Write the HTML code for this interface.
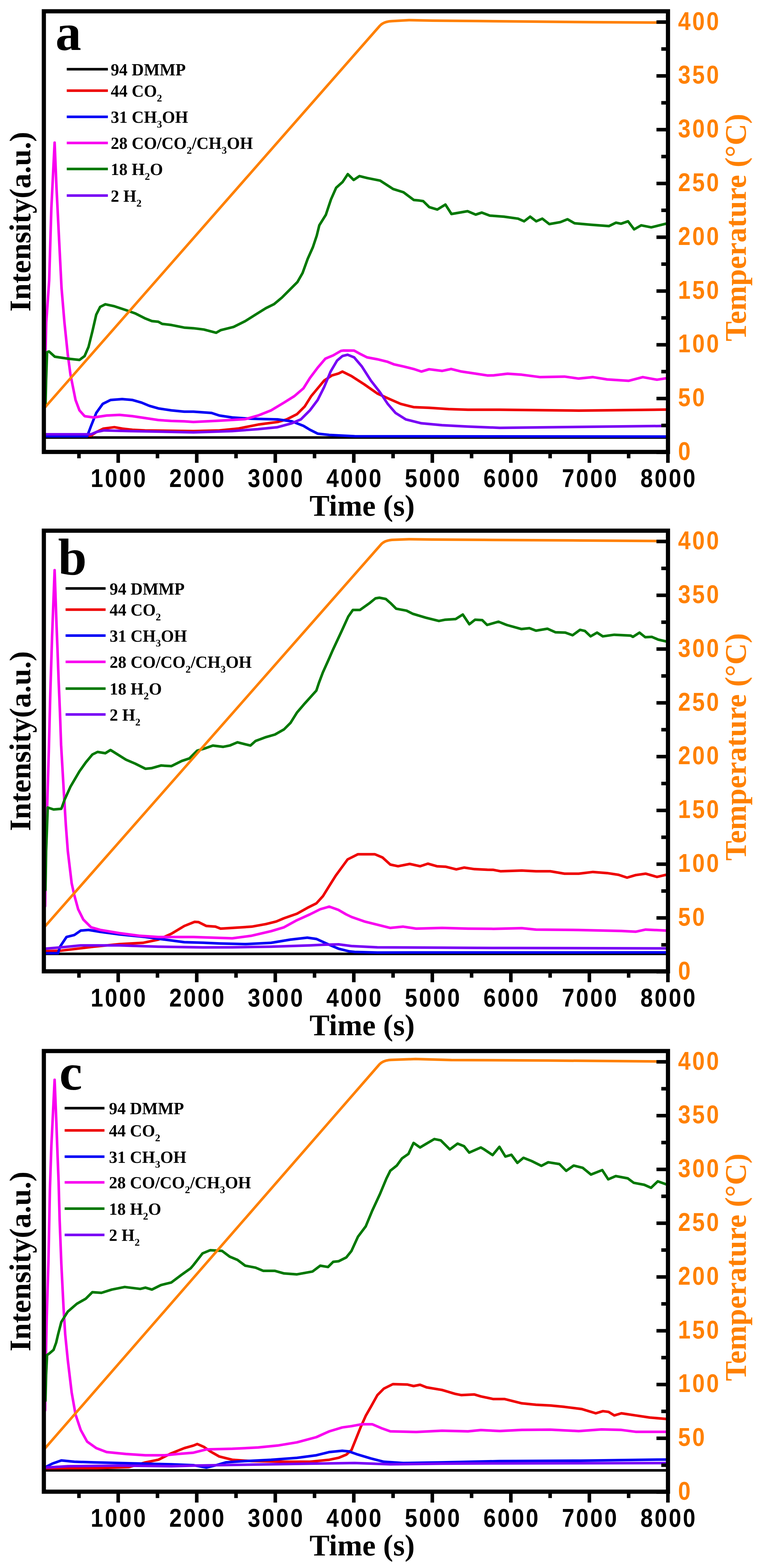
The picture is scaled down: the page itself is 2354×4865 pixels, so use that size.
<!DOCTYPE html>
<html><head><meta charset="utf-8"><style>
html,body{margin:0;padding:0;background:#fff;}
svg{display:block;}
.tl{font-family:"Liberation Sans",Arial,sans-serif;font-weight:bold;font-size:79px;fill:#000;letter-spacing:6px;}
.or{fill:#ff8000;}
.ax{font-family:"Liberation Serif","Times New Roman",serif;font-weight:bold;font-size:93px;fill:#000;}
.ort{fill:#ff8000;}
.pl{font-family:"Liberation Serif","Times New Roman",serif;font-weight:bold;font-size:160px;fill:#000;}
.lg{font-family:"Liberation Serif","Times New Roman",serif;font-weight:bold;font-size:52px;fill:#000;}
.sb{font-size:32px;}
</style></head><body>
<svg width="2354" height="4865" viewBox="0 0 2354 4865">
<defs><clipPath id="clip"><rect x="142" y="41" width="1924" height="1355"/></clipPath></defs>
<rect width="2354" height="4865" fill="#fff"/>

<g transform="translate(0,0.0)">
<g clip-path="url(#clip)">
<path d="M141.0,1357.5 L2066.0,1357.5" fill="none" stroke="#000000" stroke-width="8" stroke-linejoin="round" stroke-linecap="round"/>
<path d="M141.0,1351.4 L282.5,1351.4 L300.0,1340.0 L320.0,1330.0 L354.7,1325.4 L380.0,1330.0 L410.9,1333.4 L450.0,1335.4 L600.0,1337.4 L680.3,1335.4 L740.4,1329.4 L800.6,1317.3 L860.8,1309.3 L888.9,1301.3 L921.0,1285.2 L945.1,1261.2 L965.2,1229.0 L985.2,1205.0 L1005.3,1180.9 L1029.4,1164.9 L1050.0,1158.8 L1062.0,1152.8 L1090.1,1166.9 L1130.3,1192.9 L1170.4,1221.0 L1210.5,1239.1 L1242.6,1253.1 L1282.7,1263.2 L1330.9,1265.2 L1391.1,1269.2 L1451.3,1271.2 L1550.0,1271.2 L1794.8,1274.0 L2066.0,1270.8" fill="none" stroke="#ee0000" stroke-width="8" stroke-linejoin="round" stroke-linecap="round"/>
<path d="M141.0,1353.5 L270.4,1353.5 L282.5,1321.3 L298.5,1281.2 L318.6,1253.1 L342.7,1241.1 L378.8,1238.3 L410.9,1241.1 L439.0,1249.1 L463.0,1259.1 L491.2,1267.2 L531.3,1273.2 L571.4,1277.2 L600.0,1277.2 L656.2,1281.2 L680.3,1289.2 L720.4,1295.3 L780.6,1299.3 L860.8,1301.3 L905.0,1307.3 L941.1,1321.3 L961.2,1333.4 L985.2,1345.4 L1021.3,1349.4 L1100.0,1353.5 L2066.0,1354.5" fill="none" stroke="#0000f5" stroke-width="8" stroke-linejoin="round" stroke-linecap="round"/>
<path d="M140.0,1150.0 L142.0,1060.0 L143.5,1000.0 L152.5,870.3 L159.3,645.0 L169.4,442.5 L175.0,577.6 L184.0,757.8 L190.8,892.9 L199.8,1000.0 L210.3,1100.6 L218.3,1160.8 L226.3,1201.0 L234.3,1241.0 L246.4,1273.2 L262.4,1291.2 L290.5,1295.3 L330.6,1289.2 L370.8,1287.2 L410.9,1291.3 L451.0,1297.3 L491.2,1303.3 L531.3,1306.0 L571.4,1307.3 L600.0,1309.3 L680.3,1305.3 L760.5,1300.5 L800.6,1289.2 L840.8,1273.2 L880.9,1249.1 L913.0,1229.0 L941.0,1205.0 L961.2,1172.9 L985.2,1140.8 L1009.3,1112.7 L1033.4,1102.6 L1057.5,1088.6 L1066.0,1087.5 L1098.2,1087.8 L1114.2,1096.6 L1138.3,1108.7 L1170.4,1114.7 L1202.5,1122.7 L1222.5,1130.7 L1250.6,1136.8 L1282.7,1144.8 L1306.8,1152.8 L1330.9,1145.6 L1371.0,1150.8 L1399.1,1144.8 L1431.2,1152.8 L1471.3,1158.8 L1511.5,1164.9 L1530.0,1164.8 L1574.1,1159.5 L1618.3,1162.6 L1675.7,1170.1 L1750.7,1168.4 L1794.8,1174.6 L1839.0,1170.1 L1883.1,1177.2 L1949.3,1181.6 L1993.5,1170.1 L2037.6,1178.1 L2066.0,1173.7" fill="none" stroke="#f800f0" stroke-width="8" stroke-linejoin="round" stroke-linecap="round"/>
<path d="M141.0,1262.0 L143.0,1180.0 L146.0,1092.6 L152.0,1090.6 L170.0,1106.7 L210.0,1112.7 L246.4,1116.7 L262.4,1104.7 L274.5,1076.6 L286.5,1028.4 L298.5,976.2 L310.6,952.2 L326.6,944.1 L354.7,950.2 L390.8,962.2 L418.9,972.2 L451.0,988.3 L471.0,996.3 L491.0,998.3 L503.0,1005.0 L531.3,1008.3 L571.4,1016.4 L600.0,1018.4 L632.1,1022.4 L670.2,1032.4 L684.3,1024.4 L724.4,1014.4 L760.5,996.3 L792.6,976.2 L824.7,956.2 L850.0,943.6 L874.1,923.5 L898.2,899.4 L922.2,875.4 L938.3,847.3 L954.3,803.1 L970.4,767.0 L982.4,730.9 L990.4,698.8 L1010.5,666.7 L1026.6,618.5 L1042.6,582.4 L1062.7,564.4 L1078.7,540.3 L1096.8,558.3 L1114.8,546.3 L1138.9,552.3 L1179.0,560.4 L1219.2,586.4 L1251.3,596.5 L1283.4,620.5 L1300.0,622.1 L1312.5,624.0 L1331.3,642.7 L1356.3,650.2 L1381.4,634.6 L1400.2,664.0 L1450.2,655.3 L1475.3,665.9 L1494.0,659.6 L1519.1,669.0 L1562.9,672.2 L1606.7,678.4 L1625.5,686.6 L1644.3,672.2 L1663.1,686.6 L1681.9,678.4 L1703.8,695.3 L1738.2,689.1 L1760.1,680.3 L1782.0,692.8 L1832.1,697.2 L1888.5,701.6 L1910.4,690.9 L1926.0,694.1 L1947.9,686.6 L1966.7,711.6 L1988.6,699.1 L2019.9,705.3 L2066.0,694.0" fill="none" stroke="#007800" stroke-width="8" stroke-linejoin="round" stroke-linecap="round"/>
<path d="M141.0,1347.4 L282.5,1347.4 L300.0,1340.0 L322.6,1335.4 L400.0,1337.4 L600.0,1341.4 L720.4,1337.4 L800.6,1331.4 L860.8,1325.4 L905.0,1313.3 L933.0,1301.3 L961.2,1273.2 L985.2,1241.1 L1005.3,1201.0 L1025.4,1152.8 L1045.4,1118.7 L1062.0,1104.7 L1078.1,1100.6 L1098.2,1108.7 L1122.2,1136.8 L1150.3,1180.9 L1178.4,1217.0 L1202.5,1253.1 L1226.6,1281.2 L1258.7,1301.3 L1306.8,1313.3 L1371.0,1319.3 L1451.3,1323.4 L1550.0,1327.4 L2066.0,1321.5" fill="none" stroke="#7800f5" stroke-width="8" stroke-linejoin="round" stroke-linecap="round"/>
<path d="M139.0,1264.4 L1178.0,80.0 L1181.3,76.8 L1185.1,74.0 L1189.2,71.6 L1193.7,69.6 L1198.7,68.0 L1204.1,66.8 L1209.8,65.9 L1216.0,65.5 L1268.5,62.5 L1340.8,64.1 L1482.5,65.3 L1835.6,68.8 L2066.0,70.3" fill="none" stroke="#ff8000" stroke-width="8" stroke-linejoin="round" stroke-linecap="round"/>
</g>
<rect x="136" y="35" width="1935.7" height="1367.2" fill="none" stroke="#000" stroke-width="13"/>
<path d="M366.6,1402 V1436 M610.2,1402 V1436 M853.8,1402 V1436 M1097.3,1402 V1436 M1340.8,1402 V1436 M1584.4,1402 V1436 M1827.9,1402 V1436 M2071.5,1402 V1436 M244.9,1402 V1422 M488.4,1402 V1422 M732.0,1402 V1422 M975.5,1402 V1422 M1219.1,1402 V1422 M1462.6,1402 V1422 M1706.2,1402 V1422 M1949.7,1402 V1422 M2072,1403.4 H2036 M2072,1236.6 H2036 M2072,1069.7 H2036 M2072,902.9 H2036 M2072,736.0 H2036 M2072,569.2 H2036 M2072,402.3 H2036 M2072,235.5 H2036 M2072,68.6 H2036 M2072,1320.0 H2051 M2072,1153.1 H2051 M2072,986.3 H2051 M2072,819.4 H2051 M2072,652.6 H2051 M2072,485.7 H2051 M2072,318.9 H2051 M2072,152.0 H2051" stroke="#000" stroke-width="11" fill="none"/>
<text transform="translate(366.6,1511) scale(0.88,1)" x="3" class="tl" text-anchor="middle">1000</text>
<text transform="translate(610.2,1511) scale(0.88,1)" x="3" class="tl" text-anchor="middle">2000</text>
<text transform="translate(853.8,1511) scale(0.88,1)" x="3" class="tl" text-anchor="middle">3000</text>
<text transform="translate(1097.3,1511) scale(0.88,1)" x="3" class="tl" text-anchor="middle">4000</text>
<text transform="translate(1340.8,1511) scale(0.88,1)" x="3" class="tl" text-anchor="middle">5000</text>
<text transform="translate(1584.4,1511) scale(0.88,1)" x="3" class="tl" text-anchor="middle">6000</text>
<text transform="translate(1827.9,1511) scale(0.88,1)" x="3" class="tl" text-anchor="middle">7000</text>
<text transform="translate(2071.5,1511) scale(0.88,1)" x="3" class="tl" text-anchor="middle">8000</text>
<text transform="translate(2103,1427.1) scale(0.88,1)" class="tl or">0</text>
<text transform="translate(2103,1260.3) scale(0.88,1)" class="tl or">50</text>
<text transform="translate(2103,1093.4) scale(0.88,1)" class="tl or">100</text>
<text transform="translate(2103,926.6) scale(0.88,1)" class="tl or">150</text>
<text transform="translate(2103,759.8) scale(0.88,1)" class="tl or">200</text>
<text transform="translate(2103,593.0) scale(0.88,1)" class="tl or">250</text>
<text transform="translate(2103,426.1) scale(0.88,1)" class="tl or">300</text>
<text transform="translate(2103,259.3) scale(0.88,1)" class="tl or">350</text>
<text transform="translate(2103,92.5) scale(0.88,1)" class="tl or">400</text>
<text x="960" y="1600" class="ax">Time (s)</text>
<text transform="translate(94,688) rotate(-90)" text-anchor="middle" class="ax">Intensity(a.u.)</text>
<text transform="translate(2313,706) rotate(-90)" text-anchor="middle" class="ax ort">Temperature (°C)</text>
<text x="172" y="155" class="pl">a</text>
<path d="M207,214.8 H334.6" stroke="#000000" stroke-width="8"/>
<text x="343.6" y="233.6" class="lg">94 DMMP</text>
<path d="M207,281.3 H334.6" stroke="#ee0000" stroke-width="8"/>
<text x="343.6" y="300.1" class="lg">44 CO<tspan class="sb" dy="15">2</tspan></text>
<path d="M207,362.5 H334.6" stroke="#0000f5" stroke-width="8"/>
<text x="343.6" y="381.3" class="lg">31 CH<tspan class="sb" dy="15">3</tspan><tspan dy="-15">OH</tspan></text>
<path d="M207,443.4 H334.6" stroke="#f800f0" stroke-width="8"/>
<text x="343.6" y="462.2" class="lg">28 CO/CO<tspan class="sb" dy="15">2</tspan><tspan dy="-15">/CH</tspan><tspan class="sb" dy="15">3</tspan><tspan dy="-15">OH</tspan></text>
<path d="M207,524.3 H334.6" stroke="#007800" stroke-width="8"/>
<text x="343.6" y="543.1" class="lg">18 H<tspan class="sb" dy="15">2</tspan><tspan dy="-15">O</tspan></text>
<path d="M207,606.8 H334.6" stroke="#7800f5" stroke-width="8"/>
<text x="343.6" y="625.6" class="lg">2 H<tspan class="sb" dy="15">2</tspan></text>
</g>
<g transform="translate(0,1611.5)">
<g clip-path="url(#clip)">
<path d="M141.0,1347.9 L2066.0,1347.9" fill="none" stroke="#000000" stroke-width="8" stroke-linejoin="round" stroke-linecap="round"/>
<path d="M141.0,1339.9 L190.2,1337.9 L290.5,1325.8 L370.8,1317.8 L443.0,1313.8 L491.2,1303.8 L531.3,1285.7 L571.4,1261.6 L603.5,1248.8 L616.0,1249.6 L640.1,1261.6 L668.2,1263.6 L684.3,1269.7 L720.4,1267.6 L780.6,1263.6 L824.7,1255.6 L856.8,1247.6 L880.9,1237.5 L921.0,1223.5 L953.1,1205.4 L981.2,1191.4 L1001.3,1169.3 L1021.3,1137.2 L1041.4,1105.1 L1062.0,1077.0 L1078.1,1055.0 L1110.2,1038.9 L1162.4,1038.9 L1186.4,1049.0 L1210.5,1071.0 L1234.6,1076.2 L1270.7,1069.0 L1302.8,1076.2 L1326.9,1068.2 L1355.0,1076.2 L1383.1,1077.8 L1415.2,1085.9 L1439.2,1080.3 L1471.3,1085.1 L1511.5,1087.1 L1530.0,1087.3 L1552.1,1091.7 L1618.3,1089.5 L1662.4,1091.7 L1706.6,1091.7 L1750.7,1099.2 L1794.8,1099.2 L1839.0,1093.9 L1883.1,1097.4 L1918.4,1102.7 L1944.9,1111.5 L1971.4,1103.6 L2002.3,1099.2 L2037.6,1109.3 L2066.0,1102.7" fill="none" stroke="#ee0000" stroke-width="8" stroke-linejoin="round" stroke-linecap="round"/>
<path d="M141.0,1345.9 L180.0,1345.9 L186.2,1325.8 L206.2,1295.7 L230.3,1289.7 L250.4,1275.7 L274.5,1273.7 L310.6,1279.7 L370.8,1287.7 L451.0,1295.7 L511.2,1303.8 L571.4,1311.8 L630.0,1313.5 L680.3,1315.8 L760.5,1317.8 L840.8,1313.8 L901.0,1303.8 L953.1,1297.7 L981.2,1301.7 L1021.3,1319.8 L1049.4,1331.8 L1081.5,1339.9 L1100.0,1341.9 L1170.4,1343.9 L2066.0,1343.5" fill="none" stroke="#0000f5" stroke-width="8" stroke-linejoin="round" stroke-linecap="round"/>
<path d="M140.0,1200.0 L142.0,1050.0 L146.0,900.0 L151.4,718.5 L155.9,543.8 L161.5,363.7 L169.4,157.6 L175.0,318.6 L178.5,408.5 L181.8,498.8 L186.0,600.0 L189.5,700.0 L198.2,849.9 L204.2,948.6 L210.3,1028.9 L222.3,1129.2 L230.3,1165.3 L242.4,1209.5 L258.4,1241.6 L282.5,1265.6 L310.6,1273.7 L370.8,1283.7 L431.0,1291.7 L491.2,1295.7 L551.3,1295.7 L600.0,1295.7 L660.2,1297.7 L720.4,1299.8 L780.6,1291.7 L840.8,1277.7 L880.9,1265.6 L921.0,1243.6 L961.2,1225.5 L993.3,1209.5 L1021.3,1201.4 L1049.4,1211.5 L1073.5,1225.5 L1090.1,1233.5 L1130.3,1247.6 L1170.4,1257.6 L1210.5,1267.6 L1250.6,1263.6 L1290.8,1269.7 L1371.0,1267.6 L1451.3,1269.7 L1530.0,1270.4 L1618.3,1268.2 L1662.4,1272.7 L1794.8,1274.0 L1927.3,1277.1 L1971.4,1279.3 L2002.3,1272.7 L2066.0,1275.7" fill="none" stroke="#f800f0" stroke-width="8" stroke-linejoin="round" stroke-linecap="round"/>
<path d="M141.0,1150.0 L143.0,1030.0 L146.0,948.6 L148.0,894.0 L166.1,900.0 L190.2,898.0 L200.2,870.0 L218.3,829.8 L246.4,781.7 L266.4,753.6 L286.5,729.5 L302.6,721.5 L326.6,725.5 L342.7,715.5 L358.7,725.5 L390.8,745.6 L418.9,757.6 L451.0,773.7 L471.1,771.7 L499.2,763.6 L531.3,765.6 L563.4,749.6 L587.5,741.6 L611.5,717.5 L632.1,711.7 L660.2,701.7 L692.3,705.7 L712.4,701.7 L736.4,691.6 L776.6,701.7 L792.6,687.6 L824.7,675.6 L852.8,667.5 L880.9,651.5 L901.0,631.4 L921.0,599.3 L945.1,571.2 L981.2,531.1 L989.2,507.0 L1001.3,474.9 L1018.8,436.0 L1032.1,405.5 L1060.2,345.3 L1080.3,301.2 L1094.3,281.1 L1116.4,281.1 L1144.5,261.1 L1164.5,245.0 L1176.6,243.0 L1196.6,247.0 L1212.7,261.1 L1228.7,277.1 L1260.8,283.1 L1280.9,293.2 L1321.0,305.2 L1361.2,315.2 L1381.2,311.2 L1413.3,309.2 L1435.4,295.2 L1455.5,325.3 L1473.5,311.2 L1495.5,312.4 L1510.7,327.5 L1546.1,317.4 L1571.3,327.5 L1616.8,340.2 L1642.1,337.6 L1662.3,345.2 L1697.7,339.2 L1723.0,350.3 L1753.3,351.3 L1776.1,359.4 L1798.8,342.7 L1814.0,346.2 L1831.7,362.9 L1851.9,351.3 L1869.6,362.9 L1905.0,357.9 L1955.6,360.4 L1963.1,364.4 L1983.4,351.3 L2001.1,365.5 L2021.3,364.4 L2041.5,373.0 L2066.0,378.5" fill="none" stroke="#007800" stroke-width="8" stroke-linejoin="round" stroke-linecap="round"/>
<path d="M141.0,1331.9 L190.2,1327.8 L250.4,1321.8 L370.8,1321.8 L491.2,1325.8 L630.0,1328.0 L720.4,1327.8 L840.8,1325.8 L961.2,1321.8 L1001.3,1319.8 L1050.0,1318.5 L1090.1,1323.8 L1170.4,1327.8 L1550.0,1329.8 L2066.0,1331.0" fill="none" stroke="#7800f5" stroke-width="8" stroke-linejoin="round" stroke-linecap="round"/>
<path d="M139.0,1263.4 L1179.7,80.0 L1182.7,76.6 L1186.2,73.5 L1190.1,70.9 L1194.4,68.6 L1199.2,66.8 L1204.4,65.3 L1210.0,64.2 L1216.0,63.5 L1268.5,61.4 L1340.8,62.6 L1500.0,63.5 L1800.0,65.5 L2066.0,67.3" fill="none" stroke="#ff8000" stroke-width="8" stroke-linejoin="round" stroke-linecap="round"/>
</g>
<rect x="136" y="35" width="1935.7" height="1367.2" fill="none" stroke="#000" stroke-width="13"/>
<path d="M366.6,1402 V1436 M610.2,1402 V1436 M853.8,1402 V1436 M1097.3,1402 V1436 M1340.8,1402 V1436 M1584.4,1402 V1436 M1827.9,1402 V1436 M2071.5,1402 V1436 M244.9,1402 V1422 M488.4,1402 V1422 M732.0,1402 V1422 M975.5,1402 V1422 M1219.1,1402 V1422 M1462.6,1402 V1422 M1706.2,1402 V1422 M1949.7,1402 V1422 M2072,1403.4 H2036 M2072,1236.6 H2036 M2072,1069.7 H2036 M2072,902.9 H2036 M2072,736.0 H2036 M2072,569.2 H2036 M2072,402.3 H2036 M2072,235.5 H2036 M2072,68.6 H2036 M2072,1320.0 H2051 M2072,1153.1 H2051 M2072,986.3 H2051 M2072,819.4 H2051 M2072,652.6 H2051 M2072,485.7 H2051 M2072,318.9 H2051 M2072,152.0 H2051" stroke="#000" stroke-width="11" fill="none"/>
<text transform="translate(366.6,1511) scale(0.88,1)" x="3" class="tl" text-anchor="middle">1000</text>
<text transform="translate(610.2,1511) scale(0.88,1)" x="3" class="tl" text-anchor="middle">2000</text>
<text transform="translate(853.8,1511) scale(0.88,1)" x="3" class="tl" text-anchor="middle">3000</text>
<text transform="translate(1097.3,1511) scale(0.88,1)" x="3" class="tl" text-anchor="middle">4000</text>
<text transform="translate(1340.8,1511) scale(0.88,1)" x="3" class="tl" text-anchor="middle">5000</text>
<text transform="translate(1584.4,1511) scale(0.88,1)" x="3" class="tl" text-anchor="middle">6000</text>
<text transform="translate(1827.9,1511) scale(0.88,1)" x="3" class="tl" text-anchor="middle">7000</text>
<text transform="translate(2071.5,1511) scale(0.88,1)" x="3" class="tl" text-anchor="middle">8000</text>
<text transform="translate(2103,1427.1) scale(0.88,1)" class="tl or">0</text>
<text transform="translate(2103,1260.3) scale(0.88,1)" class="tl or">50</text>
<text transform="translate(2103,1093.4) scale(0.88,1)" class="tl or">100</text>
<text transform="translate(2103,926.6) scale(0.88,1)" class="tl or">150</text>
<text transform="translate(2103,759.8) scale(0.88,1)" class="tl or">200</text>
<text transform="translate(2103,593.0) scale(0.88,1)" class="tl or">250</text>
<text transform="translate(2103,426.1) scale(0.88,1)" class="tl or">300</text>
<text transform="translate(2103,259.3) scale(0.88,1)" class="tl or">350</text>
<text transform="translate(2103,92.5) scale(0.88,1)" class="tl or">400</text>
<text x="960" y="1600" class="ax">Time (s)</text>
<text transform="translate(94,688) rotate(-90)" text-anchor="middle" class="ax">Intensity(a.u.)</text>
<text transform="translate(2313,706) rotate(-90)" text-anchor="middle" class="ax ort">Temperature (°C)</text>
<text x="180" y="171" class="pl">b</text>
<path d="M203.4,214.2 H327.5" stroke="#000000" stroke-width="8"/>
<text x="340" y="233.0" class="lg">94 DMMP</text>
<path d="M203.4,279.9 H327.5" stroke="#ee0000" stroke-width="8"/>
<text x="340" y="298.7" class="lg">44 CO<tspan class="sb" dy="15">2</tspan></text>
<path d="M203.4,360.6 H327.5" stroke="#0000f5" stroke-width="8"/>
<text x="340" y="379.4" class="lg">31 CH<tspan class="sb" dy="15">3</tspan><tspan dy="-15">OH</tspan></text>
<path d="M203.4,441.9 H327.5" stroke="#f800f0" stroke-width="8"/>
<text x="340" y="460.7" class="lg">28 CO/CO<tspan class="sb" dy="15">2</tspan><tspan dy="-15">/CH</tspan><tspan class="sb" dy="15">3</tspan><tspan dy="-15">OH</tspan></text>
<path d="M203.4,524.9 H327.5" stroke="#007800" stroke-width="8"/>
<text x="340" y="543.7" class="lg">18 H<tspan class="sb" dy="15">2</tspan><tspan dy="-15">O</tspan></text>
<path d="M203.4,605.3 H327.5" stroke="#7800f5" stroke-width="8"/>
<text x="340" y="624.1" class="lg">2 H<tspan class="sb" dy="15">2</tspan></text>
</g>
<g transform="translate(0,3226.0)">
<g clip-path="url(#clip)">
<path d="M141.0,1336.0 L2066.0,1336.0" fill="none" stroke="#000000" stroke-width="8" stroke-linejoin="round" stroke-linecap="round"/>
<path d="M141.0,1329.3 L300.0,1329.0 L400.0,1326.0 L451.0,1311.3 L491.2,1303.2 L531.3,1283.2 L571.4,1267.1 L600.0,1259.1 L612.0,1254.3 L632.1,1263.1 L652.2,1277.2 L680.3,1293.2 L720.4,1303.2 L780.6,1307.3 L880.9,1309.3 L961.2,1309.3 L1021.3,1303.2 L1050.0,1297.2 L1074.1,1287.2 L1090.1,1273.1 L1102.2,1243.0 L1118.2,1202.9 L1134.3,1166.8 L1150.3,1138.7 L1170.4,1102.6 L1190.4,1082.5 L1218.5,1068.5 L1262.7,1069.7 L1282.7,1074.5 L1302.8,1070.5 L1322.9,1078.5 L1371.0,1086.6 L1411.2,1098.6 L1431.2,1102.6 L1471.3,1100.6 L1491.4,1106.6 L1530.0,1114.8 L1565.3,1114.8 L1618.3,1128.1 L1662.4,1132.5 L1706.6,1134.7 L1750.7,1139.1 L1803.7,1145.7 L1847.8,1159.0 L1869.9,1152.4 L1887.5,1154.6 L1905.2,1165.6 L1927.3,1159.0 L1971.4,1165.6 L2015.5,1172.2 L2066.0,1176.6" fill="none" stroke="#ee0000" stroke-width="8" stroke-linejoin="round" stroke-linecap="round"/>
<path d="M141.0,1326.0 L162.1,1315.3 L190.2,1305.3 L230.3,1309.3 L290.5,1311.3 L370.8,1313.3 L451.0,1315.3 L531.3,1317.3 L600.0,1320.0 L640.1,1327.3 L670.0,1320.0 L700.3,1311.3 L760.5,1307.3 L840.8,1303.2 L921.0,1297.2 L981.2,1289.2 L1021.3,1279.2 L1061.5,1275.2 L1082.1,1277.2 L1110.2,1287.2 L1150.3,1299.2 L1190.4,1309.3 L1250.6,1313.3 L1371.0,1311.3 L1550.0,1307.3 L1800.0,1306.0 L2066.0,1302.4" fill="none" stroke="#0000f5" stroke-width="8" stroke-linejoin="round" stroke-linecap="round"/>
<path d="M140.0,1150.0 L142.0,1000.0 L145.0,860.0 L150.3,684.0 L154.8,464.3 L159.3,329.2 L169.4,124.3 L175.0,261.6 L178.2,350.0 L181.8,441.8 L185.0,560.0 L190.2,694.9 L197.0,830.0 L202.2,914.0 L210.3,994.3 L222.3,1094.6 L234.3,1162.8 L250.4,1210.9 L270.4,1247.1 L298.5,1267.1 L330.6,1279.2 L390.8,1285.2 L451.0,1289.2 L511.2,1289.2 L551.3,1285.2 L600.0,1281.2 L640.1,1271.1 L720.4,1269.1 L800.6,1265.1 L860.8,1259.1 L921.0,1249.1 L981.2,1233.0 L1021.3,1215.0 L1061.5,1202.9 L1090.1,1198.9 L1122.2,1192.9 L1154.3,1192.9 L1182.4,1204.9 L1210.5,1215.0 L1290.8,1217.0 L1371.0,1213.0 L1451.3,1215.0 L1491.4,1211.0 L1550.0,1214.0 L1618.3,1210.6 L1706.6,1209.7 L1794.8,1214.2 L1865.5,1208.9 L1927.3,1210.6 L1971.4,1216.4 L2066.0,1216.4" fill="none" stroke="#f800f0" stroke-width="8" stroke-linejoin="round" stroke-linecap="round"/>
<path d="M141.0,1120.0 L143.0,1040.0 L146.0,978.2 L152.0,974.2 L166.1,962.2 L174.1,940.0 L180.2,914.0 L190.2,875.5 L210.3,843.4 L238.3,819.3 L266.4,803.2 L286.5,783.2 L314.6,785.2 L346.7,775.1 L386.8,767.1 L435.0,773.1 L451.0,769.1 L471.1,775.1 L499.2,761.1 L531.3,753.1 L563.4,729.0 L591.5,708.9 L600.0,699.0 L628.1,662.9 L652.2,652.9 L688.3,654.9 L712.4,673.0 L736.4,683.0 L760.5,701.0 L792.6,707.1 L816.7,717.1 L852.8,717.1 L880.9,725.1 L921.0,727.9 L969.2,719.1 L993.3,701.0 L1017.3,705.1 L1033.4,689.0 L1050.0,687.3 L1074.1,675.3 L1090.1,655.2 L1110.2,611.1 L1134.3,579.0 L1154.3,530.8 L1178.4,478.7 L1198.5,430.5 L1210.5,406.4 L1230.6,390.4 L1246.6,368.3 L1266.7,354.3 L1282.7,320.1 L1302.8,334.2 L1322.9,322.2 L1347.0,308.1 L1367.0,312.1 L1395.1,340.2 L1419.2,322.2 L1439.2,330.2 L1455.3,350.2 L1491.4,334.2 L1500.0,339.2 L1527.9,357.8 L1548.9,332.2 L1567.5,362.5 L1586.1,356.9 L1604.7,382.0 L1623.4,366.2 L1649.0,376.4 L1679.2,391.3 L1700.2,380.1 L1735.1,385.7 L1756.0,406.7 L1779.3,390.4 L1807.3,397.4 L1832.9,418.3 L1867.8,404.4 L1886.4,433.2 L1909.7,423.0 L1946.9,430.0 L1965.5,443.9 L1998.1,450.0 L2019.1,459.3 L2040.0,439.3 L2066.0,448.6" fill="none" stroke="#007800" stroke-width="8" stroke-linejoin="round" stroke-linecap="round"/>
<path d="M141.0,1327.3 L210.3,1323.3 L370.8,1321.3 L531.3,1323.3 L600.0,1321.3 L720.4,1319.3 L840.8,1317.3 L961.2,1315.3 L1100.0,1313.3 L1210.5,1317.3 L1371.0,1315.3 L1550.0,1314.5 L2066.0,1313.5" fill="none" stroke="#7800f5" stroke-width="8" stroke-linejoin="round" stroke-linecap="round"/>
<path d="M139.0,1268.4 L1173.6,80.0 L1176.9,76.2 L1180.6,72.9 L1184.8,70.0 L1189.4,67.6 L1194.4,65.7 L1199.8,64.2 L1205.7,63.1 L1212.0,62.5 L1288.9,59.7 L1400.0,62.9 L1700.0,64.5 L2066.0,67.4" fill="none" stroke="#ff8000" stroke-width="8" stroke-linejoin="round" stroke-linecap="round"/>
</g>
<rect x="136" y="35" width="1935.7" height="1367.2" fill="none" stroke="#000" stroke-width="13"/>
<path d="M366.6,1402 V1436 M610.2,1402 V1436 M853.8,1402 V1436 M1097.3,1402 V1436 M1340.8,1402 V1436 M1584.4,1402 V1436 M1827.9,1402 V1436 M2071.5,1402 V1436 M244.9,1402 V1422 M488.4,1402 V1422 M732.0,1402 V1422 M975.5,1402 V1422 M1219.1,1402 V1422 M1462.6,1402 V1422 M1706.2,1402 V1422 M1949.7,1402 V1422 M2072,1403.4 H2036 M2072,1236.6 H2036 M2072,1069.7 H2036 M2072,902.9 H2036 M2072,736.0 H2036 M2072,569.2 H2036 M2072,402.3 H2036 M2072,235.5 H2036 M2072,68.6 H2036 M2072,1320.0 H2051 M2072,1153.1 H2051 M2072,986.3 H2051 M2072,819.4 H2051 M2072,652.6 H2051 M2072,485.7 H2051 M2072,318.9 H2051 M2072,152.0 H2051" stroke="#000" stroke-width="11" fill="none"/>
<text transform="translate(366.6,1511) scale(0.88,1)" x="3" class="tl" text-anchor="middle">1000</text>
<text transform="translate(610.2,1511) scale(0.88,1)" x="3" class="tl" text-anchor="middle">2000</text>
<text transform="translate(853.8,1511) scale(0.88,1)" x="3" class="tl" text-anchor="middle">3000</text>
<text transform="translate(1097.3,1511) scale(0.88,1)" x="3" class="tl" text-anchor="middle">4000</text>
<text transform="translate(1340.8,1511) scale(0.88,1)" x="3" class="tl" text-anchor="middle">5000</text>
<text transform="translate(1584.4,1511) scale(0.88,1)" x="3" class="tl" text-anchor="middle">6000</text>
<text transform="translate(1827.9,1511) scale(0.88,1)" x="3" class="tl" text-anchor="middle">7000</text>
<text transform="translate(2071.5,1511) scale(0.88,1)" x="3" class="tl" text-anchor="middle">8000</text>
<text transform="translate(2103,1427.1) scale(0.88,1)" class="tl or">0</text>
<text transform="translate(2103,1260.3) scale(0.88,1)" class="tl or">50</text>
<text transform="translate(2103,1093.4) scale(0.88,1)" class="tl or">100</text>
<text transform="translate(2103,926.6) scale(0.88,1)" class="tl or">150</text>
<text transform="translate(2103,759.8) scale(0.88,1)" class="tl or">200</text>
<text transform="translate(2103,593.0) scale(0.88,1)" class="tl or">250</text>
<text transform="translate(2103,426.1) scale(0.88,1)" class="tl or">300</text>
<text transform="translate(2103,259.3) scale(0.88,1)" class="tl or">350</text>
<text transform="translate(2103,92.5) scale(0.88,1)" class="tl or">400</text>
<text x="960" y="1600" class="ax">Time (s)</text>
<text transform="translate(94,688) rotate(-90)" text-anchor="middle" class="ax">Intensity(a.u.)</text>
<text transform="translate(2313,706) rotate(-90)" text-anchor="middle" class="ax ort">Temperature (°C)</text>
<text x="184" y="155" class="pl">c</text>
<path d="M200.5,212.2 H324" stroke="#000000" stroke-width="8"/>
<text x="338" y="231.0" class="lg">94 DMMP</text>
<path d="M200.5,281.3 H324" stroke="#ee0000" stroke-width="8"/>
<text x="338" y="300.1" class="lg">44 CO<tspan class="sb" dy="15">2</tspan></text>
<path d="M200.5,362.8 H324" stroke="#0000f5" stroke-width="8"/>
<text x="338" y="381.6" class="lg">31 CH<tspan class="sb" dy="15">3</tspan><tspan dy="-15">OH</tspan></text>
<path d="M200.5,442.5 H324" stroke="#f800f0" stroke-width="8"/>
<text x="338" y="461.3" class="lg">28 CO/CO<tspan class="sb" dy="15">2</tspan><tspan dy="-15">/CH</tspan><tspan class="sb" dy="15">3</tspan><tspan dy="-15">OH</tspan></text>
<path d="M200.5,524 H324" stroke="#007800" stroke-width="8"/>
<text x="338" y="542.8" class="lg">18 H<tspan class="sb" dy="15">2</tspan><tspan dy="-15">O</tspan></text>
<path d="M200.5,605.5 H324" stroke="#7800f5" stroke-width="8"/>
<text x="338" y="624.3" class="lg">2 H<tspan class="sb" dy="15">2</tspan></text>
</g>
</svg></body></html>
